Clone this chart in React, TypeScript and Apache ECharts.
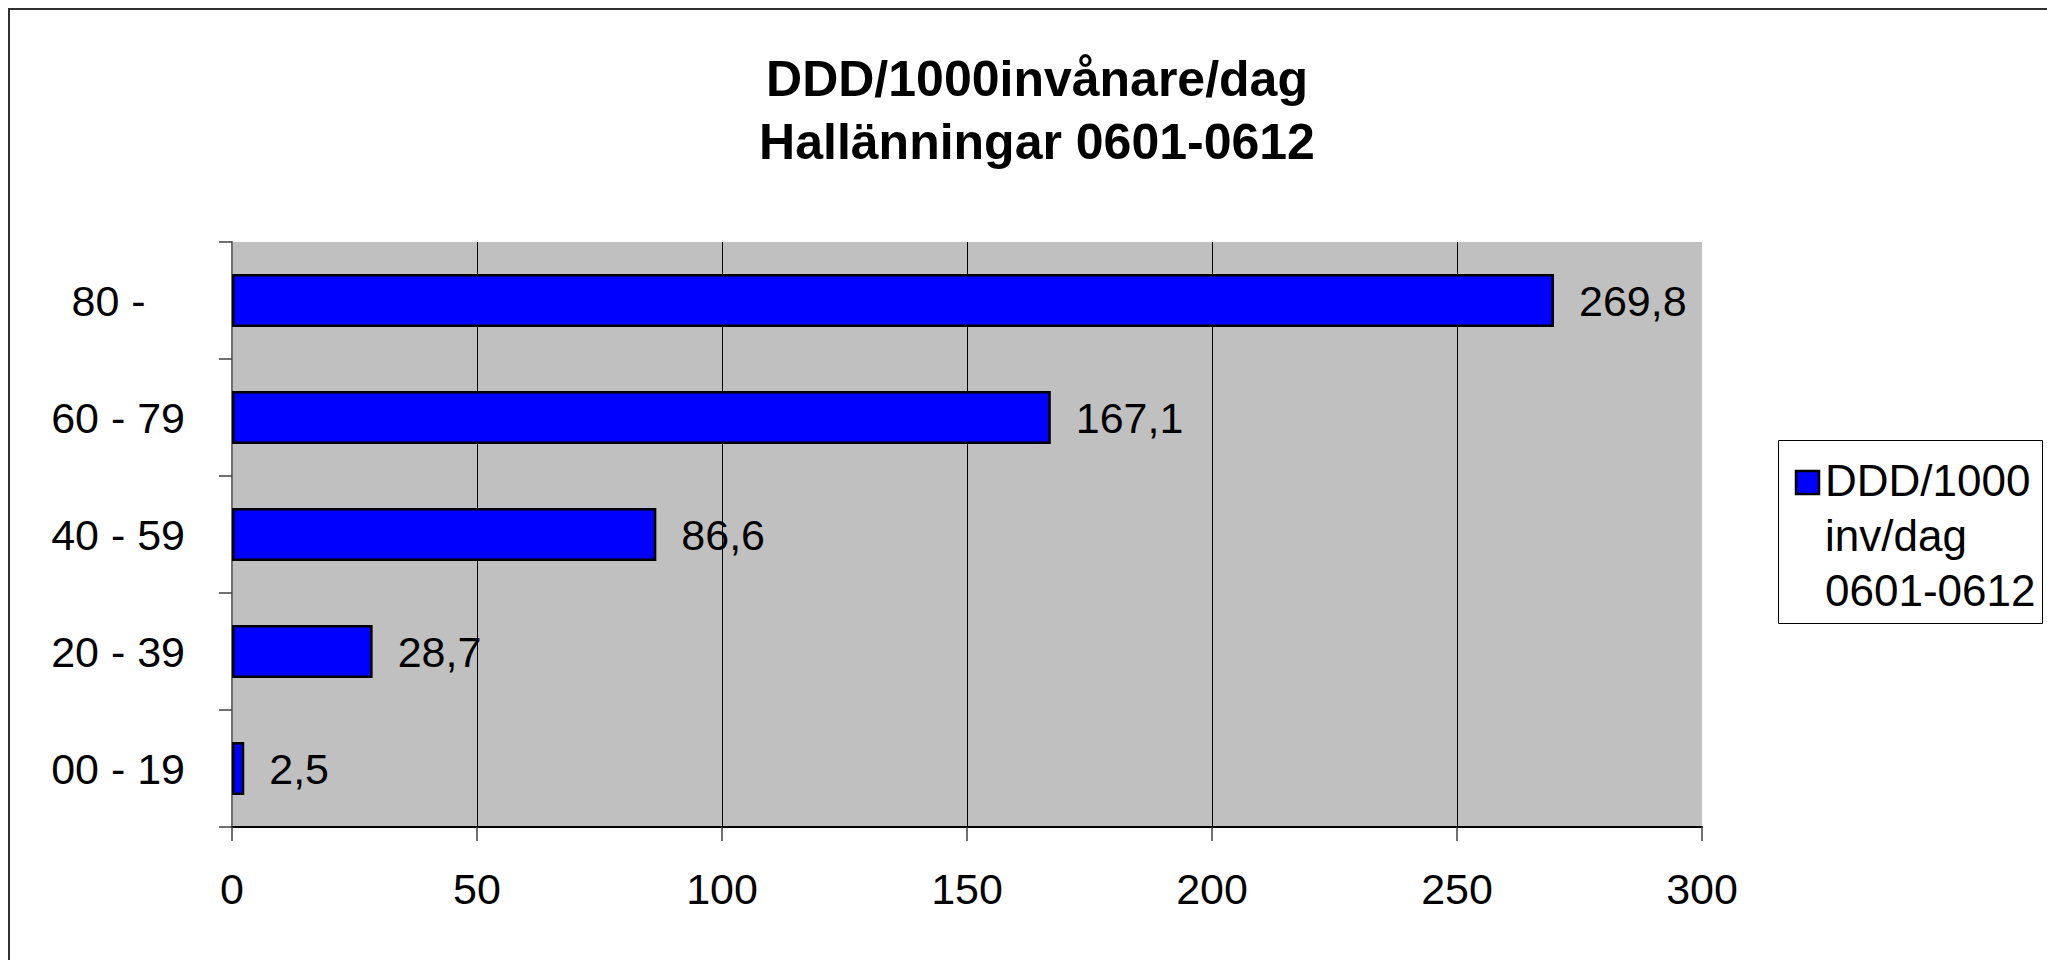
import React, { useEffect, useRef } from "react";
import * as echarts from "echarts";

const categories = ["00 - 19", "20 - 39", "40 - 59", "60 - 79", "80 -"];
const values = [2.5, 28.7, 86.6, 167.1, 269.8];
const seriesName = "DDD/1000\ninv/dag\n0601-0612";
const titleText = "DDD/1000invånare/dag\nHallänningar 0601-0612";
const xTicks = { min: 0, max: 300, interval: 50 };

const FONT = "'Liberation Sans', Arial, Helvetica, sans-serif";

export default function App() {
  const ref = useRef<HTMLDivElement>(null);
  useEffect(() => {
    if (!ref.current) return;
    const chart = echarts.init(ref.current, undefined, { renderer: "svg" });
    chart.setOption({
      animation: false,
      backgroundColor: "#ffffff",
      title: {
        text: titleText,
        left: 1037,
        top: 47,
        padding: 0,
        textAlign: "center",
        textStyle: {
          fontFamily: FONT,
          fontSize: 50,
          fontWeight: "bold",
          lineHeight: 63,
          color: "#000",
        },
      },
      legend: { show: false },
      grid: {
        left: 232,
        right: 345,
        top: 242,
        bottom: 133,
        show: true,
        backgroundColor: "#C0C0C0",
        borderWidth: 0,
        containLabel: false,
      },
      xAxis: {
        type: "value",
        min: xTicks.min,
        max: xTicks.max,
        interval: xTicks.interval,
        axisLine: { show: true, lineStyle: { color: "#000", width: 2 } },
        axisTick: {
          show: true,
          inside: false,
          length: 14,
          lineStyle: { color: "#404040", width: 1.5 },
        },
        axisLabel: {
          margin: 40,
          fontFamily: FONT,
          fontSize: 43,
          color: "#000",
        },
        splitLine: {
          show: true,
          showMinLine: false,
          showMaxLine: false,
          lineStyle: { color: "#000", width: 1 },
        },
      },
      yAxis: {
        type: "category",
        data: categories,
        axisLine: { show: true, lineStyle: { color: "#707070", width: 2 } },
        axisTick: {
          show: true,
          inside: false,
          length: 13,
          lineStyle: { color: "#404040", width: 1.5 },
        },
        axisLabel: {
          margin: 47,
          fontFamily: FONT,
          fontSize: 43,
          color: "#000",
          formatter: (v: string) =>
            v.length < 7 ? v + "\u00a0\u00a0\u00a0\u200a" : v,
        },
        splitLine: { show: false },
      },
      series: [
        {
          type: "bar",
          name: seriesName,
          data: values,
          barWidth: 53,
          itemStyle: {
            color: "#0000FF",
            borderColor: "#000",
            borderWidth: 2.5,
          },
          label: {
            show: true,
            position: "right",
            distance: 25,
            fontFamily: FONT,
            fontSize: 43,
            color: "#000",
            formatter: (p: any) => Number(p.value).toFixed(1).replace(".", ","),
          },
        },
      ],
      graphic: [
        {
          type: "rect",
          shape: { x: 9, y: 9, width: 2100, height: 1000 },
          style: { fill: "none", stroke: "#303030", lineWidth: 2 },
          silent: true,
          z: 100,
        },
        {
          type: "group",
          children: [
            {
              type: "rect",
              shape: { x: 1778.5, y: 440.5, width: 264, height: 183 },
              style: { fill: "#fff", stroke: "#000", lineWidth: 1 },
            },
            {
              type: "rect",
              shape: { x: 1796, y: 471, width: 23, height: 23 },
              style: { fill: "#0000FF", stroke: "#000", lineWidth: 2.5 },
            },
            {
              type: "text",
              x: 1825,
              y: 453,
              style: {
                text: seriesName,
                fontFamily: FONT,
                fontSize: 44,
                lineHeight: 55,
                fill: "#000",
                verticalAlign: "top",
                align: "left",
              },
            },
          ],
        },
      ],
    });
    return () => chart.dispose();
  }, []);
  return (
    <div
      ref={ref}
      style={{
        position: "fixed",
        left: 0,
        top: 0,
        width: 2047,
        height: 960,
        background: "#fff",
      }}
    />
  );
}
